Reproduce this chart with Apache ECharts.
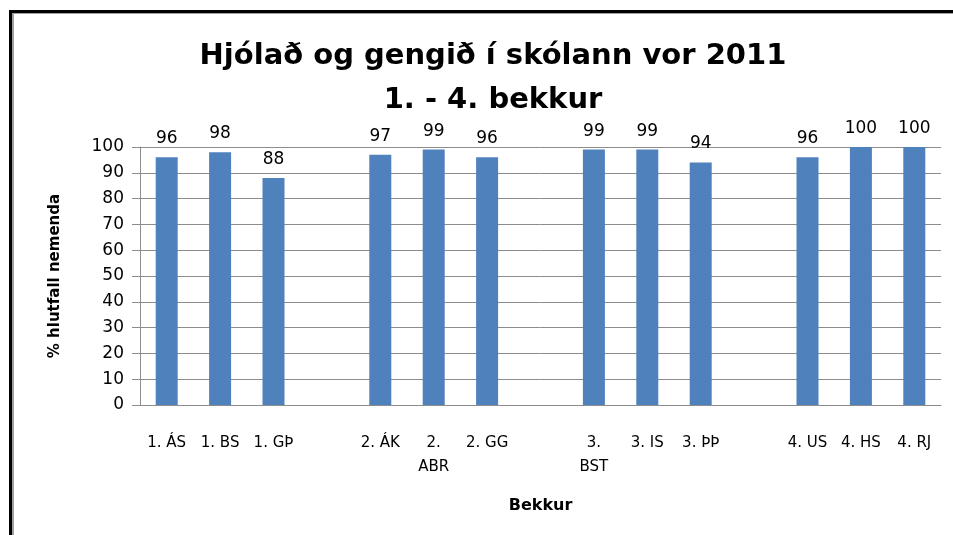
<!DOCTYPE html>
<html style="height: 100%">
<head>
    <meta charset="UTF-8">
    <title>Hjólað og gengið í skólann vor 2011</title>
    <script src="https://cdn.jsdelivr.net/npm/echarts@6/dist/echarts.min.js"></script>
    <style>
        #main {
            width: 953px;
            height: 535px;
        }
    </style>
</head>
<body style="margin: 0; padding: 0; background: #fff;">
    <div id="main"></div>

    <script>
        // bekkir - tómir flokkar gefa bil milli árganga
        var categories = ['1. ÁS', '1. BS', '1. GÞ', '',
                          '2. ÁK', '2. ABR', '2. GG', ' ',
                          '3. BST', '3. IS', '3. ÞÞ', '  ',
                          '4. US', '4. HS', '4. RJ'];
        // % hlutfall nemenda
        var values = [96, 98, 88, null,
                      97, 99, 96, null,
                      99, 99, 94, null,
                      96, 100, 100];
        var yTicks = [0, 10, 20, 30, 40, 50, 60, 70, 80, 90, 100];

        var font = 'DejaVu Sans';

        var option = {
            backgroundColor: '#ffffff',
            animation: false,
            title: {
                text: 'Hjólað og gengið í skólann vor 2011\n1. - 4. bekkur',
                left: 488,
                top: 29,
                textAlign: 'center',
                textStyle: {
                    fontFamily: font,
                    fontSize: 29,
                    fontWeight: 'bold',
                    color: '#000000',
                    lineHeight: 44
                }
            },
            grid: {
                left: 140,
                right: 12,
                top: 147,
                bottom: 130
            },
            xAxis: {
                type: 'category',
                data: categories,
                name: 'Bekkur',
                nameLocation: 'middle',
                nameGap: 93,
                nameTextStyle: { fontFamily: font, fontSize: 16, fontWeight: 'bold', color: '#000' },
                axisLine: { lineStyle: { color: '#8c8c8c' } },
                axisTick: { show: false },
                axisLabel: {
                    interval: 0,
                    margin: 26,
                    fontFamily: font,
                    fontSize: 15,
                    color: '#000',
                    lineHeight: 24,
                    formatter: function (v) {
                        // lengri nöfn brotna í tvær línur eins og í frumritinu
                        return v.length > 5 ? v.replace(' ', '\n') : v;
                    }
                }
            },
            yAxis: {
                type: 'value',
                min: yTicks[0],
                max: yTicks[yTicks.length - 1],
                interval: 10,
                name: '% hlutfall nemenda',
                nameLocation: 'middle',
                nameGap: 77,
                nameTextStyle: { fontFamily: font, fontSize: 15, fontWeight: 'bold', color: '#000' },
                axisLine: { show: true, lineStyle: { color: '#8c8c8c' } },
                axisTick: { show: true, length: 8, lineStyle: { color: '#8c8c8c' } },
                axisLabel: { fontFamily: font, fontSize: 17, color: '#000', margin: 16 },
                splitLine: { lineStyle: { color: '#8c8c8c' } }
            },
            series: [{
                type: 'bar',
                data: values,
                barWidth: 22,
                itemStyle: { color: '#4F81BD' },
                label: {
                    show: true,
                    position: 'top',
                    distance: 10,
                    fontFamily: font,
                    fontSize: 17,
                    color: '#000'
                }
            }],
            graphic: [
                { type: 'rect', shape: { x: 9, y: 10, width: 3, height: 525 }, style: { fill: '#000' } },
                { type: 'rect', shape: { x: 12, y: 10, width: 2, height: 525 }, style: { fill: '#a0a0a0' } },
                { type: 'rect', shape: { x: 9, y: 10, width: 944, height: 3 }, style: { fill: '#000' } },
                { type: 'rect', shape: { x: 12, y: 13, width: 941, height: 1 }, style: { fill: '#a0a0a0' } }
            ]
        };

        var chart = echarts.init(document.getElementById('main'));
        chart.setOption(option);
    </script>
</body>
</html>
